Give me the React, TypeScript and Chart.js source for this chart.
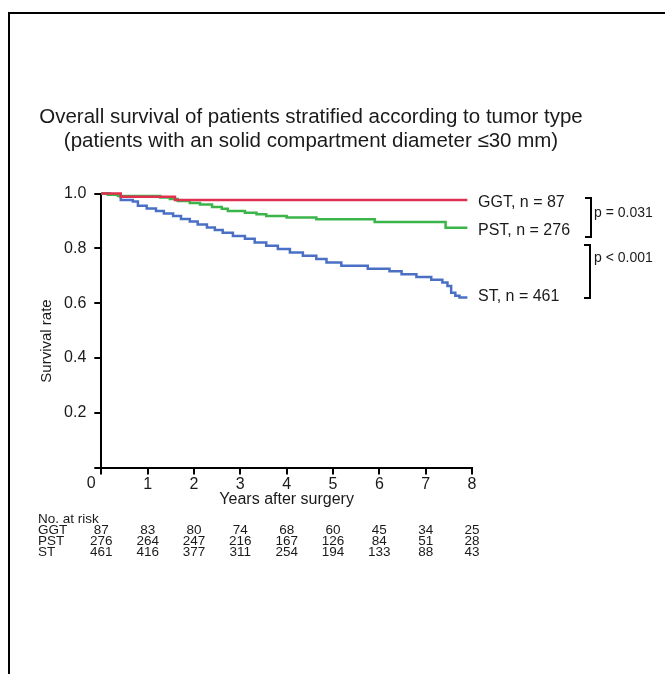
import React, { useEffect, useRef } from 'react';
import { Chart, registerables } from 'chart.js';

Chart.register(...registerables);

const W = 665;
const H = 674;

const titleLines = [
  'Overall survival of patients stratified according to tumor type',
  '(patients with an solid compartment diameter \u226430 mm)',
];
const xTitle = 'Years after surgery';
const yTitle = 'Survival rate';

const groups = ['GGT', 'PST', 'ST'];
const groupN = [87, 276, 461];
const groupColors = ['#e0304f', '#3bb54a', '#4a70c6'];

const ggtTimes = [0, 0.42, 1.59, 7.9];
const ggtSurv = [1.0, 0.988, 0.976, 0.976];

const pstTimes = [0, 0.14, 0.36, 1.27, 1.48, 1.65, 1.91, 2.13, 2.39, 2.6, 2.73, 3.1, 3.35, 3.56, 4.0, 4.64, 5.9, 7.43, 7.9];
const pstSurv = [1.0, 0.995, 0.991, 0.985, 0.98, 0.973, 0.965, 0.96, 0.951, 0.944, 0.936, 0.93, 0.924, 0.918, 0.912, 0.906, 0.896, 0.875, 0.875];

const stTimes = [0, 0.19, 0.42, 0.68, 0.79, 0.98, 1.18, 1.35, 1.55, 1.72, 1.91, 2.08, 2.28, 2.45, 2.62, 2.84, 3.1, 3.31, 3.56, 3.81, 4.07, 4.35, 4.64, 4.86, 5.18, 5.75, 6.22, 6.48, 6.8, 7.12, 7.36, 7.47, 7.55, 7.64, 7.73, 7.9];
const stSurv = [1.0, 0.995, 0.976, 0.971, 0.955, 0.945, 0.936, 0.927, 0.918, 0.907, 0.898, 0.887, 0.876, 0.867, 0.857, 0.845, 0.835, 0.821, 0.809, 0.797, 0.785, 0.773, 0.761, 0.748, 0.736, 0.725, 0.716, 0.705, 0.695, 0.685, 0.675, 0.662, 0.638, 0.627, 0.62, 0.62];

const pValues = ['p = 0.031', 'p < 0.001'];

const riskTitle = 'No. at risk';
const riskYears = [0, 1, 2, 3, 4, 5, 6, 7, 8];
const riskGGT = [87, 83, 80, 74, 68, 60, 45, 34, 25];
const riskPST = [276, 264, 247, 216, 167, 126, 84, 51, 28];
const riskST = [461, 416, 377, 311, 254, 194, 133, 88, 43];

const FONT = '"Liberation Sans", Arial, Helvetica, sans-serif';
const TEXT = '#1a1a1a';

function toPoints(t: number[], s: number[]) {
  return t.map((x, i) => ({ x, y: s[i] }));
}

export default function App() {
  const ref = useRef<HTMLCanvasElement>(null);

  useEffect(() => {
    const canvas = ref.current;
    if (!canvas) return;

    const overlay = {
      id: 'overlay',
      afterDraw(chart: any) {
        const ctx = chart.ctx as CanvasRenderingContext2D;
        const xs = chart.scales.x;
        ctx.save();
        ctx.fillStyle = TEXT;

        // Title
        ctx.font = `20.5px ${FONT}`;
        ctx.textAlign = 'center';
        ctx.textBaseline = 'middle';
        ctx.fillText(titleLines[0], 311, 117);
        ctx.fillText(titleLines[1], 311, 141);

        // Y title
        ctx.save();
        ctx.translate(47, 341);
        ctx.rotate(-Math.PI / 2);
        ctx.font = `15px ${FONT}`;
        ctx.fillText(yTitle, 0, 0);
        ctx.restore();

        // Origin "0"
        ctx.font = `16px ${FONT}`;
        ctx.textAlign = 'center';
        ctx.fillText('0', xs.getPixelForValue(0) - 10, 484);

        // Series labels
        const labelY = [203, 231, 297];
        ctx.font = `16px ${FONT}`;
        ctx.textAlign = 'left';
        groups.forEach((g, i) => {
          ctx.fillText(`${g}, n = ${groupN[i]}`, 478, labelY[i]);
        });

        // Brackets
        ctx.strokeStyle = '#000';
        ctx.lineWidth = 2;
        const br = [
          { x: 591, y0: 198, y1: 237 },
          { x: 590, y0: 245, y1: 298 },
        ];
        br.forEach((b) => {
          ctx.beginPath();
          ctx.moveTo(b.x - 6, b.y0);
          ctx.lineTo(b.x, b.y0);
          ctx.lineTo(b.x, b.y1);
          ctx.lineTo(b.x - 6, b.y1);
          ctx.stroke();
        });
        ctx.font = `14px ${FONT}`;
        ctx.fillText(pValues[0], 594, 213);
        ctx.fillText(pValues[1], 594, 258);

        // Risk table
        ctx.font = `13.5px ${FONT}`;
        ctx.textAlign = 'left';
        ctx.fillText(riskTitle, 38, 519);
        const rows = [riskGGT, riskPST, riskST];
        const rowY = [530, 541, 552];
        rows.forEach((r, i) => {
          ctx.textAlign = 'left';
          ctx.fillText(groups[i], 38, rowY[i]);
          ctx.textAlign = 'center';
          r.forEach((v, j) => {
            ctx.fillText(String(v), xs.getPixelForValue(riskYears[j]), rowY[i]);
          });
        });
        ctx.restore();
      },
    };

    const mkSet = (i: number, t: number[], s: number[]) => ({
      label: groups[i],
      data: toPoints(t, s),
      borderColor: groupColors[i],
      borderWidth: 2.5,
      pointRadius: 0,
      stepped: true,
      fill: false,
      clip: false,
    });

    const chart = new Chart(canvas, {
      type: 'line',
      data: {
        datasets: [mkSet(0, ggtTimes, ggtSurv), mkSet(1, pstTimes, pstSurv), mkSet(2, stTimes, stSurv)],
      },
      options: {
        responsive: false,
        devicePixelRatio: 1,
        animation: false,
        events: [],
        layout: { padding: { left: 40, top: 193.5, right: 193, bottom: 161.5 } },
        plugins: {
          legend: { display: false },
          tooltip: { enabled: false },
          title: { display: false },
        },
        scales: {
          x: {
            type: 'linear',
            min: 0,
            max: 8,
            afterFit: (s: any) => {
              s.height = 45;
            },
            ticks: {
              stepSize: 1,
              padding: 0,
              color: TEXT,
              font: { family: FONT, size: 16 },
              maxRotation: 0,
              callback: (v: any) => (v === 0 ? '' : String(v)),
            },
            grid: { drawOnChartArea: false, drawTicks: true, tickLength: 7, color: '#000', lineWidth: 2 },
            border: { display: true, color: '#000', width: 2 },
            title: {
              display: true,
              text: xTitle,
              color: TEXT,
              font: { family: FONT, size: 16, lineHeight: 1 },
              padding: { top: 0, bottom: 4.5 },
            },
          },
          y: {
            type: 'linear',
            min: 0,
            max: 1,
            afterFit: (s: any) => {
              s.width = 61.3;
            },
            ticks: {
              stepSize: 0.2,
              padding: 8,
              color: TEXT,
              font: { family: FONT, size: 16 },
              callback: (v: any) => (v === 0 ? '' : Number(v).toFixed(1)),
            },
            grid: { drawOnChartArea: false, drawTicks: true, tickLength: 7, color: '#000', lineWidth: 2 },
            border: { display: true, color: '#000', width: 2 },
            title: { display: false },
          },
        },
      },
      plugins: [overlay],
    } as any);

    return () => chart.destroy();
  }, []);

  return (
    <div style={{ position: 'absolute', left: 0, top: 0, width: W, height: H, overflow: 'hidden', background: '#fff' }}>
      <canvas ref={ref} width={W} height={H} style={{ position: 'absolute', left: 0, top: 0, width: W, height: H }} />
      <div
        style={{
          position: 'absolute',
          left: 8,
          top: 12,
          width: W - 8,
          height: H - 12,
          borderTop: '2px solid #000',
          borderLeft: '2px solid #000',
          boxSizing: 'border-box',
          pointerEvents: 'none',
        }}
      />
    </div>
  );
}
